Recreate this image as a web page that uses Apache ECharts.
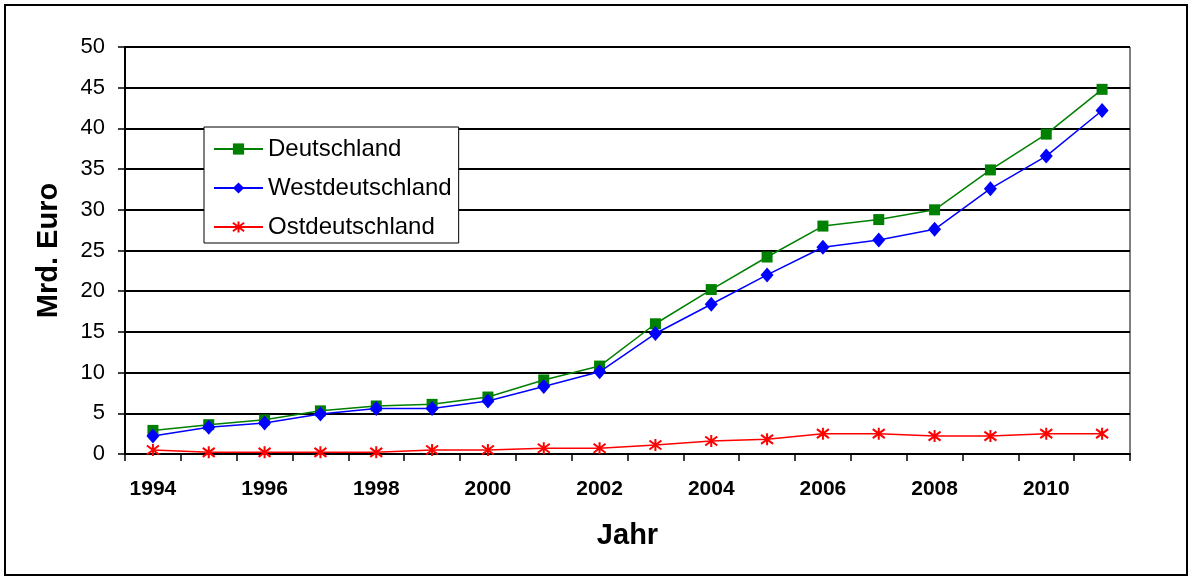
<!DOCTYPE html>
<html><head><meta charset="utf-8">
<script src="https://cdn.jsdelivr.net/npm/echarts@6/dist/echarts.min.js"></script>
<style>html,body{margin:0;padding:0;background:#fff}#c{width:1190px;height:578px}</style>
</head><body><div id="c"></div>
<script>
var years = ['1994','1995','1996','1997','1998','1999','2000','2001','2002','2003','2004','2005','2006','2007','2008','2009','2010','2011'];
var deutschland = [2.9,3.6,4.2,5.3,5.9,6.1,7.0,9.1,10.8,16.0,20.2,24.2,28.0,28.8,30.0,34.9,39.3,44.8];
var west = [2.2,3.3,3.8,4.9,5.6,5.6,6.5,8.3,10.1,14.8,18.4,22.0,25.4,26.3,27.6,32.6,36.6,42.2];
var ost = [0.5,0.2,0.2,0.2,0.2,0.5,0.5,0.7,0.7,1.1,1.6,1.8,2.5,2.5,2.2,2.2,2.5,2.5];
var yTicks = {min:0, max:50, interval:5};

var FONT = 'Liberation Sans, Arial, sans-serif';
var chart = echarts.init(document.getElementById('c'), null, {renderer:'canvas'});
var star = 'path://M0,-6L0,6M-5.5,-4.5L5.5,4.5M-5.5,4.5L5.5,-4.5';
chart.setOption({
  animation:false,
  backgroundColor:'#fff',
  graphic:[{type:'rect', shape:{x:5,y:5,width:1182,height:570}, style:{fill:'none', stroke:'#000', lineWidth:2}, z:-1}],
  grid:{left:125, right:60, top:47, bottom:124, show:true, borderColor:'#000', borderWidth:1, backgroundColor:'transparent'},
  legend:{
    orient:'vertical', left:204, top:127,
    backgroundColor:'#fff', borderColor:'#000', borderWidth:1,
    padding:[10,7,4,9], itemGap:15, itemWidth:49, itemHeight:14,
    textStyle:{fontFamily:FONT, fontSize:24, color:'#000'},
    data:['Deutschland','Westdeutschland','Ostdeutschland']
  },
  xAxis:{
    type:'category', data:years, boundaryGap:true,
    name:'Jahr', nameLocation:'middle', nameGap:67,
    nameTextStyle:{fontFamily:FONT, fontSize:29, fontWeight:'bold', color:'#000'},
    axisLine:{lineStyle:{color:'#000', width:2}},
    axisTick:{show:true, interval:0, length:7, lineStyle:{color:'#000', width:1.5}},
    axisLabel:{interval:1, margin:25, fontFamily:FONT, fontSize:21, fontWeight:'bold', color:'#000'},
    splitLine:{show:false}
  },
  yAxis:{
    type:'value', min:yTicks.min, max:yTicks.max, interval:yTicks.interval,
    name:'Mrd. Euro', nameLocation:'middle', nameGap:62, nameRotate:90,
    nameTextStyle:{fontFamily:FONT, fontSize:29, fontWeight:'bold', color:'#000'},
    axisLine:{show:true, lineStyle:{color:'#000', width:2}},
    axisTick:{show:true, length:7, lineStyle:{color:'#000', width:1.5}},
    axisLabel:{margin:20, fontFamily:FONT, fontSize:22, color:'#000'},
    splitLine:{show:true, lineStyle:{color:'#000', width:2}}
  },
  series:[
    {name:'Deutschland', type:'line', data:deutschland, symbol:'rect', symbolSize:11,
     lineStyle:{color:'#008000', width:1.5}, itemStyle:{color:'#008000'}, z:3},
    {name:'Westdeutschland', type:'line', data:west, symbol:'diamond', symbolSize:[13,15],
     lineStyle:{color:'#0000ff', width:1.5}, itemStyle:{color:'#0000ff'}, z:4},
    {name:'Ostdeutschland', type:'line', data:ost, symbol:star, symbolSize:12,
     lineStyle:{color:'#ff0000', width:1.5}, itemStyle:{color:'#ff0000', borderColor:'#ff0000', borderWidth:2}, z:5}
  ]
});
</script></body></html>
